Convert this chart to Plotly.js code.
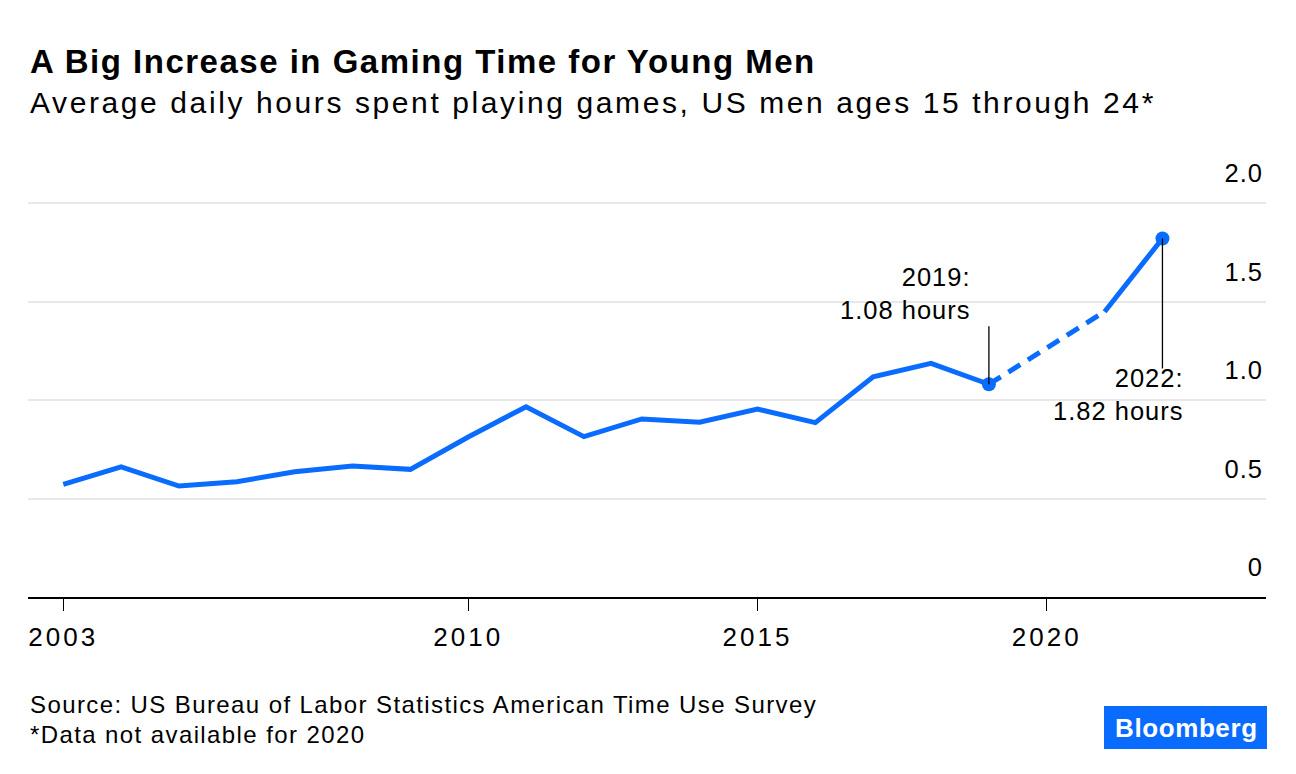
<!DOCTYPE html>
<html>
<head>
<meta charset="utf-8">
<script src="https://cdn.plot.ly/plotly-3.0.1.min.js"></script>
<style>
html,body{margin:0;padding:0;background:#fff;}
#chart{width:1296px;height:774px;}
#chart .xtick text{letter-spacing:3px;}
#chart .ytick text{letter-spacing:1px;}
</style>
</head>
<body>
<div id="chart"></div>
<script>
// Data
const years = [2003,2004,2005,2006,2007,2008,2009,2010,2011,2012,2013,2014,2015,2016,2017,2018,2019,2020,2021,2022];
const hours = [0.572,0.661,0.563,0.585,0.636,0.665,0.648,0.812,0.966,0.814,0.904,0.887,0.954,0.885,1.118,1.186,1.08,null,1.448,1.82];
const xTickVals = [2003,2010,2015,2020];
const xTickText = ['2003','2010','2015','2020'];
const yTickVals = [0,0.5,1.0,1.5,2.0];
const yTickText = ['0','0.5','1.0','1.5','2.0'];
const title = 'A Big Increase in Gaming Time for Young Men';
const subtitle = 'Average daily hours spent playing games, US men ages 15 through 24*';
const source1 = 'Source: US Bureau of Labor Statistics American Time Use Survey';
const source2 = '*Data not available for 2020';
const highlightYears = [2019, 2022];

const BLUE = '#0a6cff';
const FONT = 'Liberation Sans, Arial, sans-serif';

// dashed bridge across the missing year
const gapIdx = hours.indexOf(null);
const dashX = [years[gapIdx-1], years[gapIdx+1]];
const dashY = [hours[gapIdx-1], hours[gapIdx+1]];

const hlY = highlightYears.map(y => hours[years.indexOf(y)]);

const traces = [
  {x: years, y: hours, type: 'scatter', mode: 'lines', connectgaps: false,
   line: {color: BLUE, width: 5}, hoverinfo: 'x+y'},
  {x: dashX, y: dashY, type: 'scatter', mode: 'lines',
   line: {color: BLUE, width: 5, dash: '14px,9px'}, hoverinfo: 'skip'},
  {x: highlightYears, y: hlY, type: 'scatter', mode: 'markers',
   marker: {color: BLUE, size: 14}, hoverinfo: 'x+y'}
];

const MT = 150, MB = 177, ML = 28, MR = 30;
const PW = 1296 - ML - MR, PH = 774 - MT - MB;
const px = v => (v - ML) / PW;          // page x -> paper
const py = v => (774 - MB - v) / PH;    // page y -> paper
const sp = (t, s) => '<span style="letter-spacing:' + s + 'px">' + t + '</span>';

const layout = {
  width: 1296, height: 774,
  margin: {l: ML, r: MR, t: MT, b: MB},
  paper_bgcolor: '#fff', plot_bgcolor: '#fff',
  showlegend: false,
  font: {family: FONT, color: '#000'},
  xaxis: {
    range: [2002.39, 2023.79],
    tickvals: xTickVals, ticktext: xTickText,
    ticks: 'outside', ticklen: 12, tickwidth: 1.2, tickcolor: '#000',
    ticklabelstandoff: 4,
    showline: true, linecolor: '#000', linewidth: 2,
    showgrid: false, zeroline: false,
    tickfont: {size: 26, family: FONT, color: '#000'}
  },
  yaxis: {
    range: [0, 2.269],
    side: 'right',
    tickvals: yTickVals, ticktext: yTickText,
    ticklabelposition: 'inside top',
    ticklabelshift: -12,
    ticks: '', showline: false, zeroline: false,
    gridcolor: '#e8e8e8', gridwidth: 2,
    tickfont: {size: 25.5, family: FONT, color: '#000'}
  },
  shapes: [
    {type: 'line', xref: 'x', yref: 'y', ysizemode: 'pixel',
     x0: highlightYears[0], x1: highlightYears[0], yanchor: hlY[0], y0: 0, y1: 58,
     line: {color: '#000', width: 1.3}},
    {type: 'line', xref: 'x', yref: 'y', ysizemode: 'pixel',
     x0: highlightYears[1], x1: highlightYears[1], yanchor: hlY[1], y0: 0, y1: -130,
     line: {color: '#000', width: 1.3}},
    {type: 'rect', xref: 'paper', yref: 'paper',
     x0: px(1104), x1: px(1267), y0: py(749), y1: py(706),
     fillcolor: BLUE, line: {width: 0}, layer: 'above'}
  ],
  annotations: [
    {xref: 'paper', yref: 'paper', x: px(28), y: py(62), xanchor: 'left', yanchor: 'middle',
     text: '<b>' + sp(title, 1.5) + '</b>', showarrow: false, font: {size: 33, family: FONT, color: '#000'}},
    {xref: 'paper', yref: 'paper', x: px(28), y: py(103), xanchor: 'left', yanchor: 'middle',
     text: sp(subtitle, 2.6), showarrow: false, font: {size: 30, family: FONT, color: '#000'}},
    {xref: 'paper', yref: 'paper', x: px(28), y: py(704), xanchor: 'left', yanchor: 'middle',
     text: sp(source1, 1.4), showarrow: false, font: {size: 24, family: FONT, color: '#000'}},
    {xref: 'paper', yref: 'paper', x: px(28), y: py(734), xanchor: 'left', yanchor: 'middle',
     text: sp(source2, 1.4), showarrow: false, font: {size: 24, family: FONT, color: '#000'}},
    {xref: 'paper', yref: 'paper', x: px(1186), y: py(727.5), xanchor: 'center', yanchor: 'middle',
     text: '<b>' + sp('Bloomberg', 0.6) + '</b>', showarrow: false, font: {size: 26, family: FONT, color: '#fff'}},
    {xref: 'x', yref: 'y', x: highlightYears[0], y: hlY[0], xanchor: 'right', yanchor: 'middle',
     xshift: -16, yshift: 91, align: 'right',
     text: sp('2019:', 1) + '<br>' + sp('1.08 hours', 1), showarrow: false, font: {size: 25.5, family: FONT, color: '#000'}},
    {xref: 'x', yref: 'y', x: highlightYears[1], y: hlY[1], xanchor: 'right', yanchor: 'middle',
     xshift: 24, yshift: -156, align: 'right',
     text: sp('2022:', 1) + '<br>' + sp('1.82 hours', 1), showarrow: false, font: {size: 25.5, family: FONT, color: '#000'}}
  ]
};

Plotly.newPlot('chart', traces, layout, {displayModeBar: false, staticPlot: true});
</script>
</body>
</html>
